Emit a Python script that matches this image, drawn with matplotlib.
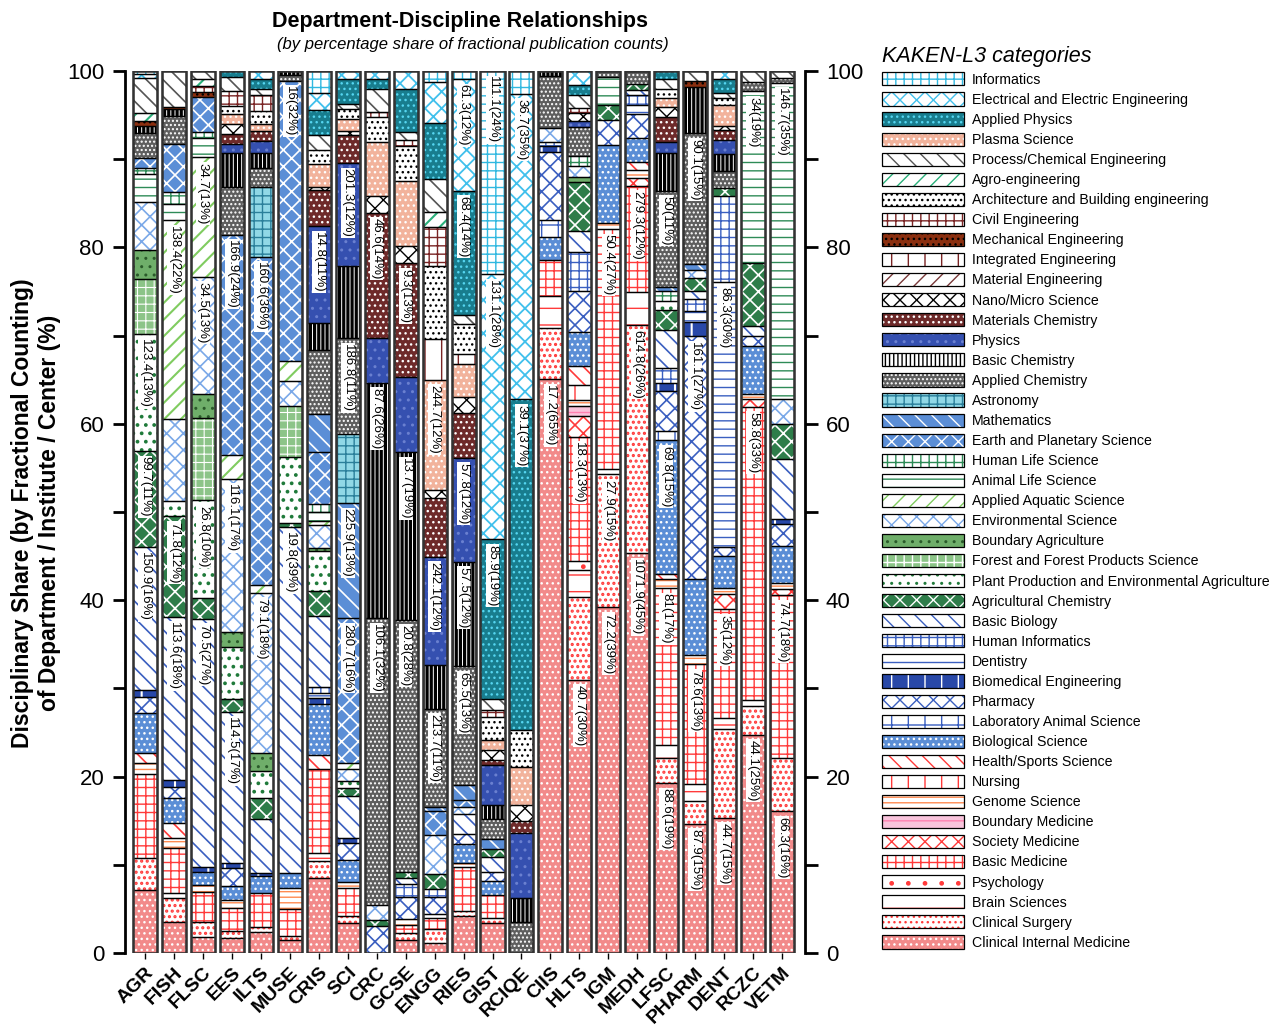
import matplotlib.pyplot as plt
from matplotlib.patches import Patch
from matplotlib.legend_handler import HandlerTuple

plt.rcParams['font.family'] = ['Liberation Sans', 'DejaVu Sans']
plt.rcParams['hatch.linewidth'] = 1.0

departments = ['AGR', 'FISH', 'FLSC', 'EES', 'ILTS', 'MUSE', 'CRIS', 'SCI', 'CRC', 'GCSE', 'ENGG', 'RIES',
               'GIST', 'RCIQE', 'CIIS', 'HLTS', 'IGM', 'MEDH', 'LFSC', 'PHARM', 'DENT', 'RCZC', 'VETM']

# legend order (top to bottom)
codes = ['INF', 'EEE', 'APH', 'PLS', 'PCE', 'AGE', 'ARC', 'CIV', 'MEC', 'ITE', 'MTE', 'NAN', 'MCH', 'PHY',
         'BCH', 'ACH', 'AST', 'MAT', 'EPS', 'HLS', 'ALS', 'AAS', 'ENV', 'BAG', 'FOR', 'PPA', 'AGC', 'BBI',
         'HIN', 'DEN', 'BME', 'PHA', 'LAS', 'BSC', 'HSS', 'NUR', 'GEN', 'BOM', 'SMD', 'BAM', 'PSY', 'BRN',
         'SUR', 'CIM']
names = ['Informatics', 'Electrical and Electric Engineering', 'Applied Physics', 'Plasma Science',
         'Process/Chemical Engineering', 'Agro-engineering', 'Architecture and Building engineering',
         'Civil Engineering', 'Mechanical Engineering', 'Integrated Engineering', 'Material Engineering',
         'Nano/Micro Science', 'Materials Chemistry', 'Physics', 'Basic Chemistry', 'Applied Chemistry',
         'Astronomy', 'Mathematics', 'Earth and Planetary Science', 'Human Life Science',
         'Animal Life Science', 'Applied Aquatic Science', 'Environmental Science', 'Boundary Agriculture',
         'Forest and Forest Products Science', 'Plant Production and Environmental Agriculture',
         'Agricultural Chemistry', 'Basic Biology', 'Human Informatics', 'Dentistry',
         'Biomedical Engineering', 'Pharmacy', 'Laboratory Animal Science', 'Biological Science',
         'Health/Sports Science', 'Nursing', 'Genome Science', 'Boundary Medicine', 'Society Medicine',
         'Basic Medicine', 'Psychology', 'Brain Sciences', 'Clinical Surgery', 'Clinical Internal Medicine']

# order of the segments inside a bar, top to bottom
stack_top_down = ['INF', 'EEE', 'APH', 'PCE', 'AGE', 'CIV', 'ARC', 'MEC', 'ITE', 'PLS', 'MTE', 'NAN', 'MCH',
                  'PHY', 'BCH', 'ACH', 'AST', 'MAT', 'EPS', 'HLS', 'ALS', 'AAS', 'ENV', 'BAG', 'FOR', 'PPA',
                  'AGC', 'BBI', 'HIN', 'DEN', 'BME', 'PHA', 'LAS', 'BSC', 'HSS', 'NUR', 'GEN', 'BOM', 'SMD',
                  'BAM', 'PSY', 'BRN', 'SUR', 'CIM']

# percentage shares
AGR = dict(INF=0.3, EEE=0.5, PCE=3.9, AGE=0.9, MEC=0.6, BCH=0.8, ACH=2.8, EPS=1.1, HLS=0.7, ALS=3.1,
           ENV=5.4, BAG=3.3, FOR=6.2, PPA=13.2, AGC=10.8, BBI=16.1, BME=0.8, PHA=1.8, BSC=4.5, HSS=1.1,
           GEN=1.3, BAM=9.4, SUR=3.6, CIM=7.1)
FISH = dict(PCE=4.0, MEC=0.3, BCH=0.8, ACH=3.1, EPS=5.4, HLS=1.4, ALS=1.8, AAS=22.3, ENV=9.3, PPA=1.7,
            AGC=11.3, BBI=18.3, BME=0.8, PHA=1.3, BSC=2.8, HSS=1.7, GEN=1.1, BAM=5.0, BRN=0.6, SUR=2.7,
            CIM=3.5)
FLSC = dict(PCE=0.9, AGE=0.8, CIV=0.7, MEC=0.5, EPS=4.0, HLS=0.6, ALS=2.2, AAS=13.4, ENV=13.2, BAG=2.6,
            FOR=9.3, PPA=11.0, AGC=2.3, BBI=27.9, BSC=1.5, BME=0.5, GEN=0.7, BAM=3.4, SUR=1.7, CIM=1.8)
EES = dict(APH=0.7, PCE=1.5, CIV=1.7, ARC=0.9, PLS=1.1, NAN=1.1, MCH=1.1, PHY=1.0, BCH=3.7, ACH=5.3,
           EPS=24.4, AAS=2.6, ENV=17.0, BAG=1.6, PPA=5.8, AGC=1.4, BBI=16.7, BME=0.6, PHA=2.0, BSC=1.5,
           GEN=0.9, BAM=2.6, SUR=0.7, CIM=1.7)
ILTS = dict(EEE=0.9, APH=1.1, PCE=0.7, CIV=1.7, ARC=1.5, PLS=0.8, MCH=1.1, PHY=1.3, BCH=1.7, ACH=2.1,
            AST=7.7, EPS=36.3, AAS=0.9, ENV=17.8, BAG=1.9, PPA=3.0, AGC=2.4, BBI=5.9, BME=0.4, BSC=1.9,
            BAM=3.7, SUR=0.6, CIM=2.3)
MUSE = dict(BCH=0.5, ACH=0.6, EPS=31.7, AAS=2.3, ENV=2.8, FOR=5.8, PPA=7.4, AGC=0.5, BBI=39.1, BSC=1.7,
            GEN=2.4, BAM=3.1, SUR=0.4, CIM=1.5)
CRIS = dict(INF=2.4, EEE=1.9, APH=2.8, PCE=1.7, ARC=1.6, PLS=2.5, NAN=0.4, MCH=4.0, PHY=10.8, BCH=3.0,
            ACH=7.1, MAT=4.2, EPS=5.8, HLS=0.9, ALS=1.0, AAS=0.5, ENV=2.5, BAG=0.3, PPA=4.5, AGC=2.8,
            BBI=7.9, HIN=0.6, DEN=0.6, BME=0.7, BSC=5.7, HSS=1.5, BAM=9.4, BRN=0.9, SUR=1.9, CIM=8.3)
SCI = dict(EEE=0.9, APH=2.8, PCE=0.5, ARC=1.2, PLS=1.3, NAN=0.4, MCH=3.2, PHY=11.5, BCH=8.1, ACH=10.7,
           AST=7.7, MAT=12.9, EPS=16.2, AAS=0.6, ENV=1.4, PPA=0.8, AGC=0.8, BBI=4.7, BME=0.6, PHA=1.9,
           BSC=2.5, GEN=0.6, BAM=3.2, SUR=0.7, CIM=3.4)
CRC = dict(EEE=0.9, APH=1.1, PCE=2.6, ARC=2.8, CIV=0.5, PLS=6.1, NAN=1.9, MCH=14.0, PHY=5.0, BCH=26.4,
           ACH=32.1, ENV=1.7, AGC=0.7, PHA=3.0)
GCSE = dict(EEE=2.0, APH=4.9, PCE=0.8, ARC=4.0, CIV=0.7, PLS=7.2, NAN=2.0, MCH=12.8, PHY=8.4, BCH=18.8,
            ACH=28.3, AGC=0.7, BBI=0.6, HIN=1.5, PHA=2.5, GEN=0.7, BAM=0.9, SUR=0.7, CIM=1.5)
ENGG = dict(INF=1.2, EEE=4.5, APH=6.2, PLS=12.1, PCE=3.6, AGE=1.7, ARC=8.0, CIV=4.3, ITE=4.5, NAN=0.9,
            MCH=6.5, PHY=11.9, BCH=4.8, ACH=10.8, MAT=0.5, EPS=2.6, ENV=4.3, AGC=1.7, HIN=0.8, PHA=1.9,
            GEN=0.4, BAM=1.3, SUR=1.5, CIM=1.1)
RIES = dict(INF=0.9, EEE=12.5, APH=13.9, PCE=1.0, ARC=3.4, ITE=1.1, PLS=3.7, NAN=1.8, MCH=5.0, PHY=11.7,
            BCH=11.7, ACH=13.3, MAT=1.7, EPS=0.8, ENV=0.7, BBI=2.3, PHA=1.1, BSC=2.1, GEN=0.5, BAM=4.9,
            SUR=0.6, CIM=4.1)
GIST = dict(INF=22.7, EEE=29.6, APH=17.8, PCE=1.3, ARC=2.6, CIV=0.7, PLS=1.1, NAN=1.1, MCH=0.6, PHY=4.5,
            BCH=1.5, ACH=2.3, MAT=1.1, AGC=0.9, BBI=1.6, PHA=1.1, BSC=1.5, BAM=2.6, SUR=0.5, CIM=3.4)
RCIQE = dict(INF=2.6, EEE=34.6, APH=37.4, ARC=4.2, PLS=4.3, NAN=1.9, MCH=1.3, PHY=7.4, BCH=2.7, ACH=3.5)
CIIS = dict(BCH=0.6, ACH=5.8, ENV=1.6, HIN=0.5, BME=0.6, PHA=7.7, LAS=1.9, BSC=2.6, BAM=4.0, BRN=3.6,
            SUR=5.8, CIM=64.6)
HLTS = dict(EEE=1.5, APH=1.1, PCE=1.5, CIV=0.5, NAN=0.9, PHY=0.6, ACH=3.2, HLS=1.1, ENV=1.3, BAG=0.5,
            AGC=5.4, BBI=2.3, HIN=4.3, PHA=4.5, BSC=3.7, HSS=2.1, NUR=1.7, GEN=0.6, BOM=1.1, SMD=2.3,
            BAM=13.6, PSY=1.0, BRN=3.0, SUR=9.1, CIM=30.0)
IGM = dict(ACH=0.7, ALS=3.1, AGC=1.7, PHA=2.8, BSC=8.8, GEN=0.7, BAM=27.0, BRN=0.6, SUR=15.0, CIM=38.9)
MEDH = dict(ACH=1.5, AGC=0.6, BBI=0.6, HIN=1.1, DEN=1.0, PHA=2.7, BSC=2.6, HSS=0.9, GEN=0.9, SMD=0.9,
            BAM=11.8, BRN=3.7, SUR=25.5, CIM=44.6)
LFSC = dict(APH=0.9, PCE=1.1, ARC=1.0, PLS=1.0, NAN=1.1, MCH=2.8, PHY=1.3, BCH=4.2, ACH=10.7, MAT=0.5,
            HLS=1.1, PPA=1.0, AGC=2.2, BBI=4.3, HIN=1.7, BME=0.9, PHA=4.5, LAS=1.0, BSC=14.9, HSS=0.6,
            GEN=1.0, BAM=17.6, BRN=1.4, SUR=2.8, CIM=19.0)
PHARM = dict(PCE=1.1, MEC=0.7, BCH=5.2, ACH=14.7, MAT=0.6, ENV=0.9, AGC=1.5, BBI=0.9, HIN=1.3, DEN=1.3,
             BME=1.6, PHA=27.2, BSC=8.5, GEN=1.1, BAM=13.4, BRN=1.9, SUR=2.6, CIM=14.5)
DENT = dict(EEE=0.9, APH=1.5, ARC=0.8, PCE=0.6, PLS=2.3, NAN=0.5, MCH=1.1, PHY=1.6, BCH=1.9, ACH=1.8,
            AGC=0.9, HIN=9.6, DEN=29.6, PHA=1.0, BSC=3.5, GEN=0.7, SMD=1.7, BAM=12.1, BRN=1.2, SUR=9.9,
            CIM=15.1)
RCZC = dict(PCE=1.3, ACH=1.0, ALS=19.4, AGC=7.2, BBI=1.1, PHA=1.1, BSC=5.5, GEN=0.5, SMD=0.9, BAM=33.2,
            BRN=0.6, SUR=3.3, CIM=24.7)
VETM = dict(PCE=0.8, ACH=0.5, ALS=34.8, ENV=2.8, AGC=3.9, BBI=6.6, BME=0.5, PHA=2.5, BSC=4.0, GEN=0.7,
            SMD=0.7, BAM=17.9, SUR=5.9, CIM=15.6)

shares = [AGR, FISH, FLSC, EES, ILTS, MUSE, CRIS, SCI, CRC, GCSE, ENGG, RIES,
          GIST, RCIQE, CIIS, HLTS, IGM, MEDH, LFSC, PHARM, DENT, RCZC, VETM]

# value labels written inside the bars
labels = {
    'AGR': dict(PPA='123.4(13%)', AGC='99.7(11%)', BBI='150.9(16%)'),
    'FISH': dict(AAS='138.4(22%)', AGC='71.8(12%)', BBI='113.6(18%)'),
    'FLSC': dict(AAS='34.7(13%)', ENV='34.5(13%)', PPA='26.8(10%)', BBI='70.5(27%)'),
    'EES': dict(EPS='166.9(24%)', ENV='116.1(17%)', BBI='114.5(17%)'),
    'ILTS': dict(EPS='160.6(36%)', ENV='79.1(18%)'),
    'MUSE': dict(EPS='16(32%)', BBI='19.8(39%)'),
    'CRIS': dict(PHY='14.8(11%)'),
    'SCI': dict(PHY='201.3(12%)', ACH='186.8(11%)', MAT='225.9(13%)', EPS='280.7(16%)'),
    'CRC': dict(MCH='46.6(14%)', BCH='87.6(26%)', ACH='106.1(32%)'),
    'GCSE': dict(MCH='9.3(13%)', BCH='13.7(19%)', ACH='20.8(28%)'),
    'ENGG': dict(PLS='244.7(12%)', PHY='242.1(12%)', ACH='213.7(11%)'),
    'RIES': dict(EEE='61.3(12%)', APH='68.4(14%)', PHY='57.8(12%)', BCH='57.5(12%)', ACH='65.5(13%)'),
    'GIST': dict(INF='111.1(24%)', EEE='131.1(28%)', APH='85.9(19%)'),
    'RCIQE': dict(EEE='36.7(35%)', APH='39.1(37%)'),
    'CIIS': dict(CIM='17.2(65%)'),
    'HLTS': dict(BAM='18.3(13%)', CIM='40.7(30%)'),
    'IGM': dict(BAM='50.4(27%)', SUR='27.9(15%)', CIM='72.2(39%)'),
    'MEDH': dict(BAM='279.3(12%)', SUR='614.8(26%)', CIM='1071.9(45%)'),
    'LFSC': dict(ACH='50(11%)', BSC='69.8(15%)', BAM='81(17%)', CIM='88.6(19%)'),
    'PHARM': dict(ACH='90.1(15%)', PHA='161.1(27%)', BAM='78.6(13%)', CIM='87.9(15%)'),
    'DENT': dict(DEN='86.3(30%)', BAM='35(12%)', CIM='44.7(15%)'),
    'RCZC': dict(ALS='34(19%)', BAM='58.8(33%)', CIM='44.1(25%)'),
    'VETM': dict(ALS='146.7(35%)', BAM='74.7(18%)', CIM='66.3(16%)'),
}

BLUE = '#5b8ed6'
DBLUE = '#3a5fc0'
RED = '#ff3a3a'
GREEN = '#2e8b57'
# face colour, hatch, hatch colour, hatch line width
styles = {
    'INF': ('white', '++', '#30b8e0', 1.0), 'EEE': ('white', 'xx', '#40c0ec', 1.3),
    'APH': ('#187d8e', '...', '#55d5f0', 1.0), 'PLS': ('#f2b39c', '...', 'white', 1.0),
    'PCE': ('white', '\\\\', '#555555', 1.2), 'AGE': ('white', '//', '#2ab07a', 1.5),
    'ARC': ('white', '...', 'black', 1.0), 'CIV': ('white', '++', '#7a2424', 1.0),
    'MEC': ('#8b2f10', '...', 'black', 1.0), 'ITE': ('white', '|', '#7a2424', 1.0),
    'MTE': ('white', '//', '#7a3a3a', 1.0), 'NAN': ('white', 'xx', 'black', 1.0),
    'MCH': ('#6e2a2a', '...', 'white', 1.0), 'PHY': ('#3550b0', '..', '#6a80d0', 1.0),
    'BCH': ('white', '||||', 'black', 2.3), 'ACH': ('#5e5e5e', '....', 'white', 1.0),
    'AST': ('#90d8e6', '++', '#2a7f9a', 1.0), 'MAT': (BLUE, '\\\\', 'white', 1.2),
    'EPS': (BLUE, 'xx', 'white', 1.2), 'HLS': ('white', '++', GREEN, 1.0),
    'ALS': ('white', '--', GREEN, 1.0), 'AAS': ('white', '//', '#80cc60', 1.5),
    'ENV': ('white', 'xx', '#7aa8e8', 1.2), 'BAG': ('#6fae6a', '..', '#2a5a2a', 1.0),
    'FOR': ('#8cc488', '++', 'white', 0.8), 'PPA': ('white', '..', '#1f7a3a', 1.5),
    'AGC': ('#2e7d4a', 'xx', 'white', 1.2), 'BBI': ('white', '\\\\', DBLUE, 1.2),
    'HIN': ('white', '++', DBLUE, 1.0), 'DEN': ('white', '--', DBLUE, 1.0),
    'BME': ('#2848a8', '|', 'white', 1.5), 'PHA': ('white', 'xx', DBLUE, 1.2),
    'LAS': ('white', '+', DBLUE, 1.0), 'BSC': (BLUE, '...', 'white', 1.0),
    'HSS': ('white', '\\\\', RED, 1.2), 'NUR': ('white', '|', RED, 1.0),
    'GEN': ('white', '---', '#ff8a50', 1.0), 'BOM': ('#f9c4dc', '--', '#ff80b0', 1.0),
    'SMD': ('white', 'xx', RED, 1.2), 'BAM': ('white', '++', RED, 1.0),
    'PSY': ('white', '.', RED, 1.0), 'BRN': ('white', '-', RED, 1.0),
    'SUR': ('white', '...', RED, 1.5), 'CIM': ('#f28a8a', '...', 'white', 1.0),
}


def set_hatch_width(patches, lw):
    for p in patches:
        if hasattr(p, 'set_hatch_linewidth'):
            p.set_hatch_linewidth(lw)


fig = plt.figure(figsize=(12.77, 10.26), dpi=100)
ax = fig.add_axes([125 / 1277, 73 / 1026, 680 / 1277, 882 / 1026])

x = list(range(len(departments)))
width = 0.83
totals = [sum(d.values()) for d in shares]
bottoms = [0.0] * len(departments)
tops = {}
for code in reversed(stack_top_down):
    face, hatch, hcol, hlw = styles[code]
    for i, d in enumerate(shares):
        v = d.get(code, 0) * 100 / totals[i]
        if v <= 0:
            continue
        b = ax.bar(i, v, width, bottom=bottoms[i], color=face, edgecolor=hcol, hatch=hatch, lw=0, zorder=2)
        set_hatch_width(b, hlw)
        ax.bar(i, v, width, bottom=bottoms[i], fill=False, edgecolor='black', lw=0.9, zorder=3)
        bottoms[i] += v
        tops[(departments[i], code)] = bottoms[i]

for i in x:
    ax.bar(i, 100, width, fill=False, edgecolor='#333333', lw=1.8, zorder=4)

for dep, lab in labels.items():
    i = departments.index(dep)
    for code, txt in lab.items():
        ax.text(i, tops[(dep, code)] - 0.6, txt, rotation=270, ha='center', va='top', fontsize=9.5,
                zorder=5, bbox=dict(facecolor='white', edgecolor='none', pad=0.6))

ax.set_xlim(-0.69, len(departments) - 0.21)
ax.set_ylim(0, 100)
ax.set_yticks(range(0, 101, 20))
ax.set_yticks(range(10, 100, 20), minor=True)
ax.tick_params(axis='y', which='both', direction='out', length=9, width=2, labelsize=16,
               right=True, labelright=True)
ax.tick_params(axis='y', which='major', pad=6)
ax.set_xticks(x)
ax.set_xticklabels(departments, rotation=45, ha='right', rotation_mode='anchor', fontsize=14,
                   fontweight='bold')
ax.tick_params(axis='x', length=4, width=1, pad=4)
for s in ['top', 'bottom']:
    ax.spines[s].set_visible(False)
for s in ['left', 'right']:
    ax.spines[s].set_linewidth(2)

fig.text(460 / 1277, 1 - 22 / 1026, 'Department-Discipline Relationships', ha='center', va='center',
         fontsize=15.5, fontweight='bold')
fig.text(473 / 1277, 1 - 45 / 1026, '(by percentage share of fractional publication counts)',
         ha='center', va='center', fontsize=12, style='italic')
fig.text(36 / 1277, 0.5, 'Disciplinary Share (by Fractional Counting)\nof Department / Institute / Center (%)',
         rotation=90, ha='center', va='center', fontsize=16.5, fontweight='bold', linespacing=1.25)

handles = []
for code in codes:
    face, hatch, hcol, hlw = styles[code]
    h = Patch(facecolor=face, edgecolor=hcol, hatch=hatch, lw=0)
    set_hatch_width([h], hlw)
    frame = Patch(fill=False, edgecolor='black', lw=0.9)
    handles.append((h, frame))
leg = fig.legend(handles, names, loc='upper left', bbox_to_anchor=(876 / 1277, 1 - 40 / 1026),
                 frameon=False, fontsize=10.2, handlelength=5.8, handleheight=1.05, labelspacing=0.4,
                 handletextpad=0.55, borderaxespad=0, title='KAKEN-L3 categories', alignment='left',
                 title_fontproperties={'size': 15.5, 'style': 'italic'},
                 handler_map={tuple: HandlerTuple(ndivide=1)})

fig.savefig('out.png', dpi=100)
